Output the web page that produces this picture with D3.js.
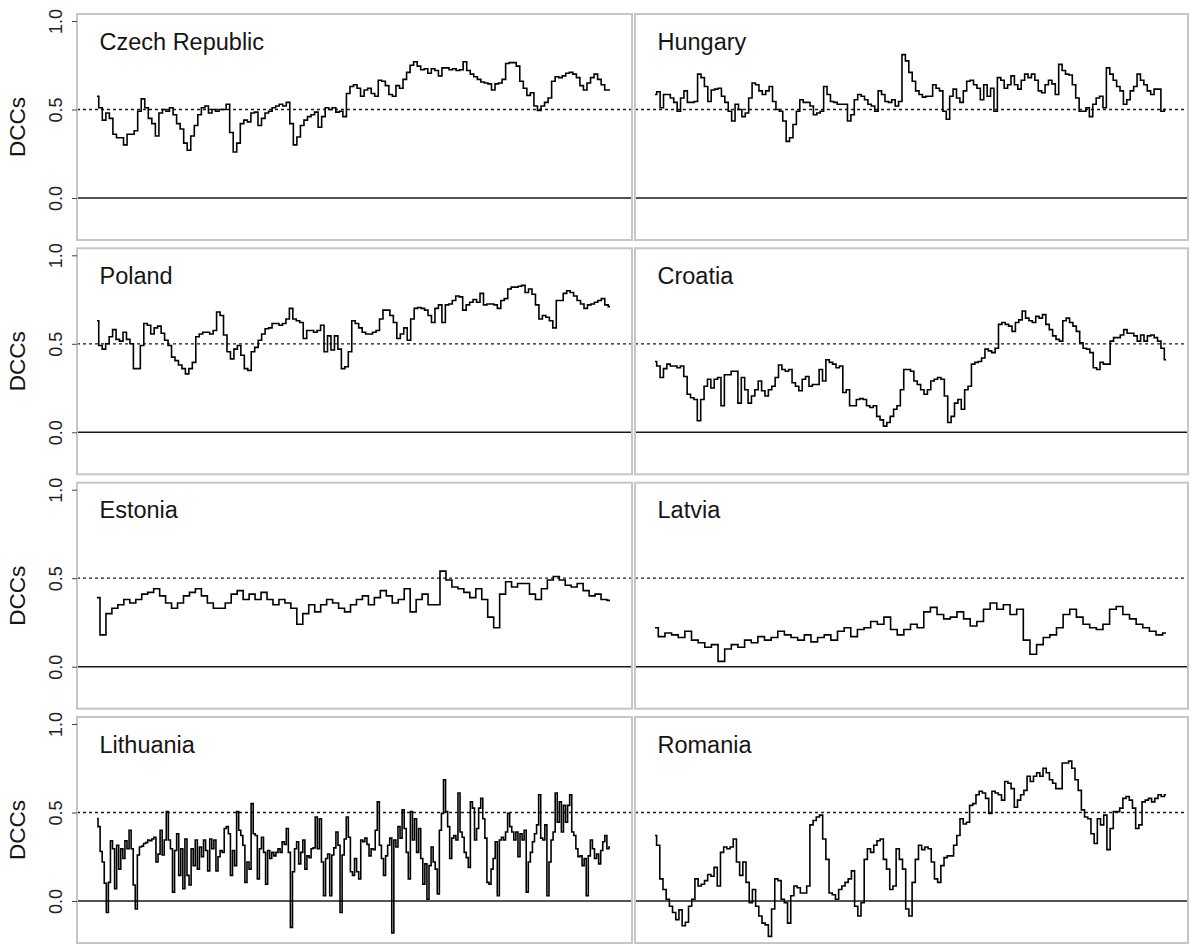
<!DOCTYPE html>
<html>
<head>
<meta charset="utf-8">
<script src="https://cdn.jsdelivr.net/npm/d3@7"></script>
<style>
  body { margin: 0; background: #fff; }
  svg { display: block; }
  text { font-family: "Liberation Sans", Arial, sans-serif; }
</style>
</head>
<body>
<svg id="chart" width="1192" height="945"></svg>
<script>
// Dynamic conditional correlations of each CEE market, in panel order
const countries = ["Czech Republic", "Hungary", "Poland", "Croatia", "Estonia", "Latvia", "Lithuania", "Romania"];

const czech = [.575,.51,.44,.48,.45,.36,.34,.34,.30,.36,.36,.38,.49,.56,.51,.45,.42,.35,.48,.50,.49,.51,.47,.42,.39,.31,.27,.35,.41,.47,.51,.52,.48,.50,.49,.50,.50,.53,.37,.26,.31,.42,.44,.43,.48,.485,.41,.45,.48,.49,.51,.52,.53,.52,.54,.42,.30,.345,.41,.44,.46,.47,.485,.40,.46,.51,.50,.51,.485,.49,.46,.59,.63,.64,.62,.575,.61,.62,.59,.575,.665,.66,.635,.585,.575,.635,.62,.67,.71,.75,.77,.745,.725,.73,.705,.73,.72,.69,.735,.735,.725,.73,.72,.725,.77,.72,.70,.685,.67,.655,.65,.645,.61,.645,.65,.67,.76,.765,.765,.745,.66,.62,.58,.595,.52,.495,.52,.54,.565,.66,.685,.68,.69,.705,.71,.70,.68,.635,.61,.65,.68,.70,.67,.64,.61,.61];

const hungary = [.585,.60,.51,.585,.585,.565,.54,.49,.565,.605,.54,.54,.545,.70,.68,.63,.545,.61,.615,.62,.575,.54,.49,.435,.53,.50,.46,.48,.565,.65,.64,.605,.585,.605,.63,.545,.50,.49,.435,.32,.34,.415,.49,.555,.54,.54,.52,.47,.48,.49,.63,.585,.545,.54,.53,.53,.53,.435,.47,.555,.585,.575,.555,.53,.52,.49,.605,.585,.545,.54,.555,.52,.545,.81,.775,.71,.66,.605,.585,.57,.575,.575,.64,.62,.605,.49,.445,.575,.615,.565,.54,.605,.66,.665,.64,.62,.555,.64,.575,.62,.49,.68,.665,.62,.64,.69,.64,.615,.665,.70,.68,.70,.665,.605,.595,.64,.665,.645,.585,.755,.72,.70,.695,.64,.565,.49,.49,.51,.46,.53,.565,.575,.51,.735,.70,.665,.63,.605,.53,.555,.605,.63,.70,.665,.64,.605,.585,.615,.615,.49,.50];

const poland = [.63,.49,.47,.50,.54,.58,.525,.515,.565,.525,.50,.36,.36,.49,.615,.605,.555,.59,.60,.56,.52,.49,.425,.405,.38,.36,.33,.36,.395,.54,.555,.565,.565,.555,.575,.68,.66,.55,.455,.415,.47,.49,.435,.36,.35,.455,.48,.52,.555,.585,.59,.615,.615,.605,.615,.64,.70,.64,.63,.62,.53,.575,.575,.565,.575,.605,.455,.545,.465,.545,.47,.36,.37,.455,.63,.615,.59,.565,.555,.555,.565,.575,.64,.69,.69,.66,.62,.53,.555,.59,.52,.64,.70,.705,.70,.69,.66,.62,.70,.72,.62,.72,.725,.745,.77,.765,.69,.72,.735,.75,.735,.785,.72,.725,.725,.72,.70,.745,.755,.81,.82,.82,.825,.83,.79,.81,.78,.72,.64,.66,.65,.63,.59,.745,.745,.785,.80,.79,.77,.745,.725,.70,.72,.725,.735,.745,.755,.72,.71];

const croatia = [.40,.375,.31,.36,.385,.375,.375,.365,.375,.315,.215,.195,.185,.065,.185,.26,.30,.25,.30,.31,.15,.325,.325,.345,.345,.165,.31,.24,.165,.205,.24,.29,.235,.205,.24,.26,.31,.38,.355,.345,.355,.28,.26,.235,.30,.315,.26,.27,.27,.355,.29,.41,.395,.385,.365,.375,.225,.24,.15,.15,.185,.19,.185,.15,.14,.15,.09,.07,.035,.055,.09,.13,.15,.24,.355,.355,.345,.29,.27,.24,.215,.24,.29,.30,.31,.30,.205,.055,.09,.165,.185,.13,.24,.26,.385,.395,.40,.42,.47,.46,.45,.475,.61,.62,.61,.60,.57,.62,.635,.685,.645,.63,.62,.655,.645,.665,.61,.58,.545,.525,.515,.63,.645,.62,.60,.57,.505,.475,.47,.45,.365,.355,.395,.385,.385,.515,.535,.535,.55,.58,.56,.56,.545,.515,.55,.515,.545,.55,.535,.515,.475,.41];

const estonia = [.39,.18,.30,.33,.35,.38,.36,.38,.41,.42,.44,.40,.36,.33,.36,.40,.42,.44,.40,.36,.33,.33,.36,.41,.43,.38,.41,.38,.42,.38,.35,.38,.36,.33,.24,.30,.35,.31,.35,.38,.36,.33,.31,.35,.38,.40,.35,.39,.43,.40,.36,.38,.44,.31,.38,.41,.35,.35,.54,.49,.45,.44,.42,.39,.44,.38,.28,.22,.41,.48,.45,.47,.47,.41,.38,.44,.49,.51,.49,.46,.45,.47,.43,.40,.41,.38,.375];

const latvia = [.22,.17,.19,.18,.165,.20,.15,.135,.11,.125,.03,.10,.125,.11,.15,.135,.17,.15,.165,.20,.18,.165,.15,.18,.14,.165,.18,.15,.20,.22,.17,.21,.22,.255,.24,.28,.21,.18,.21,.24,.22,.31,.335,.295,.27,.28,.31,.27,.23,.255,.325,.36,.325,.35,.295,.325,.15,.07,.125,.165,.18,.22,.295,.325,.28,.24,.22,.21,.24,.325,.34,.295,.27,.24,.22,.20,.18,.19];

const lithuania = [.466,.42,.28,.22,.10,-.065,.105,.34,.295,.07,.315,.18,.295,.24,.34,.295,.40,.295,.09,-.045,.26,.305,.31,.325,.33,.345,.34,.35,.36,.22,.265,.40,.26,.345,.505,.345,.295,.05,.285,.38,.145,.295,.07,.35,.145,.09,.295,.20,.345,.18,.305,.25,.345,.285,.17,.35,.295,.345,.17,.25,.285,.275,.41,.42,.38,.145,.285,.20,.505,.40,.37,.315,.105,.22,.18,.55,.38,.37,.125,.295,.36,.275,.095,.285,.24,.275,.255,.275,.295,.275,.335,.32,.41,.275,-.15,.165,.295,.335,.21,.275,.345,.18,.255,.245,.295,.30,.475,.295,.465,.22,.03,.24,.265,.03,.26,.30,.39,.315,-.065,.26,.35,.475,.36,.165,.145,.24,.165,.125,.345,.335,.355,.32,.255,.295,.29,.40,.56,.315,.24,.145,.255,.315,.355,-.18,.345,.305,.42,.355,.515,.41,.275,.125,.505,.345,.465,.275,.41,.24,.095,.21,.01,.20,.305,.22,.18,.04,.40,.495,.685,.505,.42,.24,.355,.37,.345,.61,.39,.36,.275,.245,.19,.56,.525,.345,.41,.525,.58,.465,.355,.105,.095,.18,.24,.335,.03,.345,.36,.345,.39,.495,.42,.39,.345,.39,.25,.38,.345,.40,.05,.22,.275,.335,.38,.43,.60,.355,.345,.43,.03,.22,.345,.39,.61,.445,.56,.39,.54,.445,.54,.60,.39,.37,.295,.25,.255,.20,.24,.03,.255,.345,.295,.24,.265,.21,.285,.335,.37,.295,.305];

const romania = [.37,.315,.125,.065,.01,-.03,-.065,-.105,-.05,-.14,-.12,-.03,.01,.125,.085,.095,.115,.15,.14,.19,.085,.275,.305,.295,.305,.35,.22,.145,.22,.105,-.01,.065,-.03,-.085,-.125,-.135,-.20,-.045,.125,.115,.01,-.01,-.125,.03,.085,.075,.045,.045,.085,.43,.455,.475,.485,.35,.235,.045,.035,.01,.065,.085,.105,.125,.17,-.03,-.085,-.01,.235,.295,.275,.315,.34,.35,.235,.18,.065,.085,.295,.235,.18,-.045,-.085,.105,.235,.315,.29,.305,.295,.22,.125,.105,.20,.245,.255,.255,.315,.37,.465,.435,.445,.54,.55,.60,.62,.61,.58,.495,.62,.61,.60,.57,.675,.665,.635,.53,.57,.60,.625,.705,.675,.705,.725,.705,.75,.725,.685,.665,.635,.635,.78,.78,.79,.75,.685,.625,.515,.475,.465,.38,.325,.465,.43,.485,.29,.41,.505,.505,.525,.58,.59,.57,.525,.41,.43,.56,.57,.58,.56,.58,.60,.59,.60];

const seriesList = [czech, hungary, poland, croatia, estonia, latvia, lithuania, romania];

// Axis ticks and reference levels
const yTicks = [0, 0.5, 1.0];
const yTickLabels = ["0.0", "0.5", "1.0"];
const yTitle = "DCCs";
const zeroLevel = 0;
const refLevel = 0.5;

// Panel grid geometry
const colBounds = [[77, 632], [635, 1188]];
const rowTops = [14, 248.3, 482.7, 717];
const panelH = 226;

const svg = d3.select("#chart");

countries.forEach((name, i) => {
  const row = Math.floor(i / 2), col = i % 2;
  const [x0, x1] = colBounds[col];
  const top = rowTops[row];
  const vals = seriesList[i];

  const x = d3.scaleLinear().domain([0, vals.length - 1]).range([x0 + 20, x1 - 22]);
  const y = d3.scaleLinear().domain([0, 1]).range([top + 184, top + 7]);

  const g = svg.append("g");

  // zero line
  g.append("line")
    .attr("x1", x0).attr("x2", x1)
    .attr("y1", y(zeroLevel)).attr("y2", y(zeroLevel))
    .attr("stroke", "#1a1a1a").attr("stroke-width", 1.6);

  // 0.5 reference
  g.append("line")
    .attr("x1", x0).attr("x2", x1)
    .attr("y1", y(refLevel)).attr("y2", y(refLevel))
    .attr("stroke", "#1a1a1a").attr("stroke-width", 1.3)
    .attr("stroke-dasharray", "3,3");

  // correlation path, drawn as steps
  const line = d3.line()
    .x((d, j) => x(j))
    .y(d => y(d))
    .curve(d3.curveStep);

  g.append("path")
    .datum(vals)
    .attr("d", line)
    .attr("fill", "none")
    .attr("stroke", "#000")
    .attr("stroke-width", 1.6)
    .attr("stroke-linejoin", "miter");

  // panel box
  g.append("rect")
    .attr("x", x0).attr("y", top)
    .attr("width", x1 - x0).attr("height", panelH)
    .attr("fill", "none")
    .attr("stroke", "#c6c6c6").attr("stroke-width", 2);

  // panel title
  g.append("text")
    .attr("x", x0 + 22.5).attr("y", top + 35.5)
    .attr("font-size", 23.5)
    .attr("fill", "#151515")
    .text(name);

  if (col === 0) {
    const ax = g.append("g")
      .attr("transform", `translate(${x0},0)`)
      .call(d3.axisLeft(y).tickValues(yTicks).tickSize(5)
        .tickFormat((d, k) => yTickLabels[k]));
    ax.select(".domain").remove();
    ax.selectAll(".tick line").attr("stroke", "#444");
    ax.selectAll(".tick text")
      .attr("transform", "rotate(-90)")
      .attr("x", 0).attr("y", -15).attr("dy", 0)
      .attr("text-anchor", "middle")
      .attr("font-size", 18)
      .attr("font-family", "\"Liberation Sans\", Arial, sans-serif")
      .attr("fill", "#222");

    g.append("text")
      .attr("transform", `translate(25,${top + panelH / 2}) rotate(-90)`)
      .attr("text-anchor", "middle")
      .attr("font-size", 22.5)
      .attr("fill", "#151515")
      .text(yTitle);
  }
});
</script>
</body>
</html>
